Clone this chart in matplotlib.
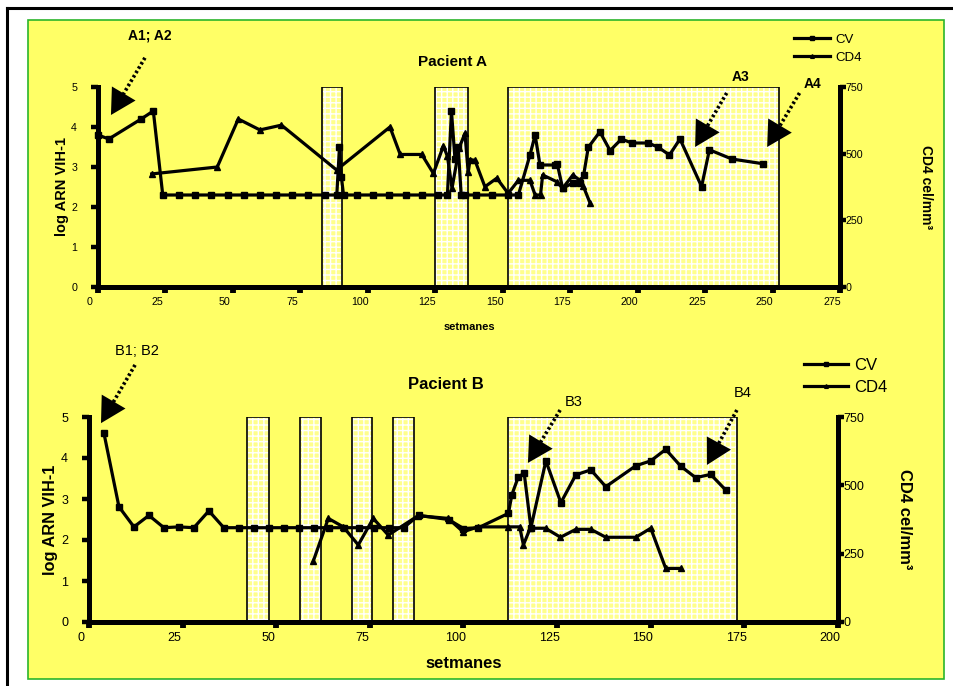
import matplotlib
matplotlib.use("Agg")
import matplotlib.pyplot as plt
from matplotlib.patches import Rectangle
from matplotlib.transforms import ScaledTranslation

plt.rcParams['font.family'] = ['Liberation Sans', 'DejaVu Sans']

# ---------------- Pacient A ----------------
cvA_weeks = [0, 4, 16, 20.5, 24, 30, 36, 42, 48, 54, 60, 66, 72, 78, 84, 88.5, 89.5, 90.2, 91,
             96, 102, 108, 114, 120, 126, 129.5, 131, 132.3, 133.5, 134.6, 136, 140, 146, 152, 155.8,
             160.1, 162, 163.8, 169.4, 170.2, 172.2, 176, 178.6, 180, 181.7, 186, 189.8, 194, 197.8,
             204, 207.7, 211.8, 215.7, 223.7, 226.6, 234.9, 246.6]
cvA_log = [3.8, 3.7, 4.2, 4.4, 2.3, 2.3, 2.3, 2.3, 2.3, 2.3, 2.3, 2.3, 2.3, 2.3, 2.3, 2.3, 3.5, 2.75, 2.3,
           2.3, 2.3, 2.3, 2.3, 2.3, 2.3, 2.3, 4.4, 3.2, 3.5, 2.3, 2.3, 2.3, 2.3, 2.3, 2.3,
           3.3, 3.8, 3.05, 3.05, 3.08, 2.47, 2.6, 2.59, 2.8, 3.49, 3.88, 3.41, 3.7, 3.6,
           3.6, 3.49, 3.3, 3.7, 2.51, 3.43, 3.2, 3.08]

cd4A_weeks = [19.9, 44.2, 52, 60, 68, 88.4, 108.2, 112, 120, 124.3, 128, 129.5, 131.2, 133.9, 136,
              137.2, 137.9, 139.7, 143.4, 147.8, 152, 155.8, 160.1, 162, 164, 164.8, 170, 172.2,
              176, 178.6, 179.9, 182.4]
cd4A_cells = [424, 450, 630, 589, 607, 439, 600, 497, 497, 426, 529, 490, 370, 523, 576,
              430, 478, 475, 376, 408, 351, 400, 400, 345, 345, 420, 395, 370,
              420, 400, 377, 314]

# treatment periods (weeks)
periodsA = [(83, 90.5), (125, 137), (152, 252.5)]

# ---------------- Pacient B ----------------
cvB_weeks = [4, 8, 12, 16, 20, 24, 28, 32, 36, 40, 44, 48, 52, 56, 60, 64, 68, 72, 76, 80, 84,
             88, 96, 100, 104, 112, 112.9, 114.6, 116.2, 118, 122, 126, 130, 134, 138, 146, 150,
             154, 158, 162, 166, 170]
cvB_log = [4.6, 2.81, 2.32, 2.6, 2.3, 2.32, 2.3, 2.71, 2.3, 2.3, 2.3, 2.3, 2.3, 2.3, 2.3, 2.3, 2.3,
           2.3, 2.3, 2.3, 2.3, 2.6, 2.5, 2.28, 2.3, 2.65, 3.1, 3.53, 3.63, 2.3, 3.93, 2.91, 3.59,
           3.71, 3.3, 3.81, 3.93, 4.21, 3.8, 3.52, 3.6, 3.22]

cd4B_weeks = [59.9, 63.9, 67.9, 71.9, 75.9, 79.9, 87.9, 95.9, 99.9, 103.9, 112, 115, 116,
              117.8, 121.9, 125.9, 130, 134, 138, 146, 150, 154, 158]
cd4B_cells = [223, 379, 348, 282, 379, 318, 389, 379, 330, 348, 348, 348, 282,
              343, 343, 310, 339, 339, 310, 310, 343, 196, 196]

periodsB = [(42.3, 48.1), (56.3, 61.9), (70.1, 75.6), (81.3, 86.9), (111.8, 173.1)]

YELLOW = '#FFFF66'
PALE = '#FFFF8C'

fig = plt.figure(figsize=(9.54, 6.86), dpi=100)
fig.patch.set_facecolor('white')

# outer frame lines and yellow chart area
fig.add_artist(plt.Line2D([7.5 / 954, 7.5 / 954], [0, 1 - 8 / 686], color='black', lw=2.2,
                          transform=fig.transFigure))
fig.add_artist(plt.Line2D([7.5 / 954, 1], [1 - 8 / 686, 1 - 8 / 686], color='black', lw=2.2,
                          transform=fig.transFigure))
fig.add_artist(Rectangle((28 / 954, 7 / 686), (944 - 28) / 954, (679 - 20) / 686,
                         transform=fig.transFigure, facecolor=YELLOW, edgecolor='#2BB52B',
                         lw=1.2, zorder=0))


def build_panel(rect, xmax, tick_size, ylab_size, rlab_size, rlab_pad, xlab_size, xlab_pad,
                weeks_cv, vals_cv, weeks_cd4, vals_cd4, periods):
    ax = fig.add_axes(rect)
    ax.patch.set_visible(False)
    ax.set_xlim(0, xmax)
    ax.set_ylim(0, 5)
    ax.set_xticks(range(0, xmax + 1, 25))
    ax.set_yticks(range(0, 6))
    for s in ('top', 'right'):
        ax.spines[s].set_visible(False)
    for s in ('left', 'bottom'):
        ax.spines[s].set_linewidth(3.6)
    ax.tick_params(axis='y', direction='out', length=5, width=3.2, labelsize=tick_size, pad=10)
    ax.tick_params(axis='x', direction='out', length=4, width=4.2, labelsize=tick_size, pad=3)
    for lab in ax.get_xticklabels():
        lab.set_transform(lab.get_transform() + ScaledTranslation(-0.08, 0, fig.dpi_scale_trans))

    for a, b in periods:
        ax.add_patch(Rectangle((a, 0), b - a, 5, facecolor=PALE, edgecolor='white',
                               hatch='+++', lw=0, zorder=1))
        ax.add_patch(Rectangle((a, 0), b - a, 5, facecolor='none', edgecolor='black',
                               lw=1.2, zorder=1.5))

    ax2 = ax.twinx()
    ax2.set_ylim(0, 750)
    ax2.set_yticks([0, 250, 500, 750])
    for s in ('top', 'left', 'bottom'):
        ax2.spines[s].set_visible(False)
    ax2.spines['right'].set_linewidth(3.6)
    ax2.tick_params(axis='y', direction='out', length=4, width=3.2, labelsize=tick_size, pad=0)

    l1, = ax.plot(weeks_cv, vals_cv, color='black', lw=2.3, marker='s', ms=4.2, zorder=3,
                  label='CV', clip_on=False)
    l2, = ax2.plot(weeks_cd4, vals_cd4, color='black', lw=2.3, marker='^', ms=4.5, zorder=3,
                   label='CD4', clip_on=False)

    ax.set_ylabel('log ARN VIH-1', fontsize=ylab_size, fontweight='bold', labelpad=2)
    ax2.set_ylabel('CD4 cel/mm³', fontsize=rlab_size, fontweight='bold', rotation=-90,
                   labelpad=rlab_pad)
    ax.set_xlabel('setmanes', fontsize=xlab_size, fontweight='bold', labelpad=xlab_pad)
    return ax, ax2, l1, l2


axA, axA2, a1, a2 = build_panel([98 / 954, 1 - 287 / 686, 742 / 954, 200 / 686], 275,
                                7.7, 10.5, 10, 50, 8, 11,
                                cvA_weeks, cvA_log, cd4A_weeks, cd4A_cells, periodsA)
axA.text(0.478, 1.125, 'Pacient A', transform=axA.transAxes, ha='center', va='center',
         fontsize=11, fontweight='bold')
axA.legend(handles=[a1, a2], loc='upper left', bbox_to_anchor=(0.922, 1.325), frameon=False,
           fontsize=9.5, handlelength=2.7, handletextpad=0.4, labelspacing=0.42, markerscale=0.6)

axB, axB2, b1, b2 = build_panel([89 / 954, 1 - 622 / 686, 749 / 954, 205 / 686], 200,
                                9, 11.8, 12, 34, 12, 9,
                                cvB_weeks, cvB_log, cd4B_weeks, cd4B_cells, periodsB)
axB.text(0.477, 1.16, 'Pacient B', transform=axB.transAxes, ha='center', va='center',
         fontsize=12, fontweight='bold')
axB.legend(handles=[b1, b2], loc='upper left', bbox_to_anchor=(0.935, 1.36), frameon=False,
           fontsize=12, handlelength=2.6, handletextpad=0.4, labelspacing=0.4, markerscale=0.6)


def marker_arrow(ax, label, text_xy, start, tip, size, weight):
    ax.text(*text_xy, label, fontsize=size, fontweight=weight, ha='center', va='center',
            clip_on=False)
    dx = tip[0] - start[0]
    dy = tip[1] - start[1]
    neck = (tip[0] - dx * 0.2, tip[1] - dy * 0.2)
    ax.plot([start[0], neck[0]], [start[1], neck[1]], color='black', lw=2.6,
            ls=(0, (0.7, 0.7)), solid_capstyle='butt', clip_on=False, zorder=4)
    back = (tip[0] - dx * 0.24, tip[1] - dy * 0.24)
    ax.annotate('', xy=tip, xytext=back, annotation_clip=False,
                arrowprops=dict(arrowstyle='-|>,head_length=1.0,head_width=0.55', lw=0,
                                color='black', mutation_scale=18, shrinkA=0, shrinkB=0))


marker_arrow(axA, 'A1; A2', (19.3, 6.3), (17.4, 5.73), (4.8, 4.3), 10, 'bold')
marker_arrow(axA, 'A3', (238.3, 5.25), (233, 4.85), (221.3, 3.5), 10, 'bold')
marker_arrow(axA, 'A4', (265, 5.08), (260, 4.85), (248, 3.5), 10, 'bold')

marker_arrow(axB, 'B1; B2', (12.8, 6.6), (12.3, 6.27), (3.2, 4.85), 10.5, 'normal')
marker_arrow(axB, 'B3', (129.5, 5.37), (125.8, 5.17), (117.2, 3.88), 10.5, 'normal')
marker_arrow(axB, 'B4', (174.6, 5.58), (173, 5.17), (165, 3.83), 10.5, 'normal')

fig.savefig('out.png', dpi=100, facecolor='white')
